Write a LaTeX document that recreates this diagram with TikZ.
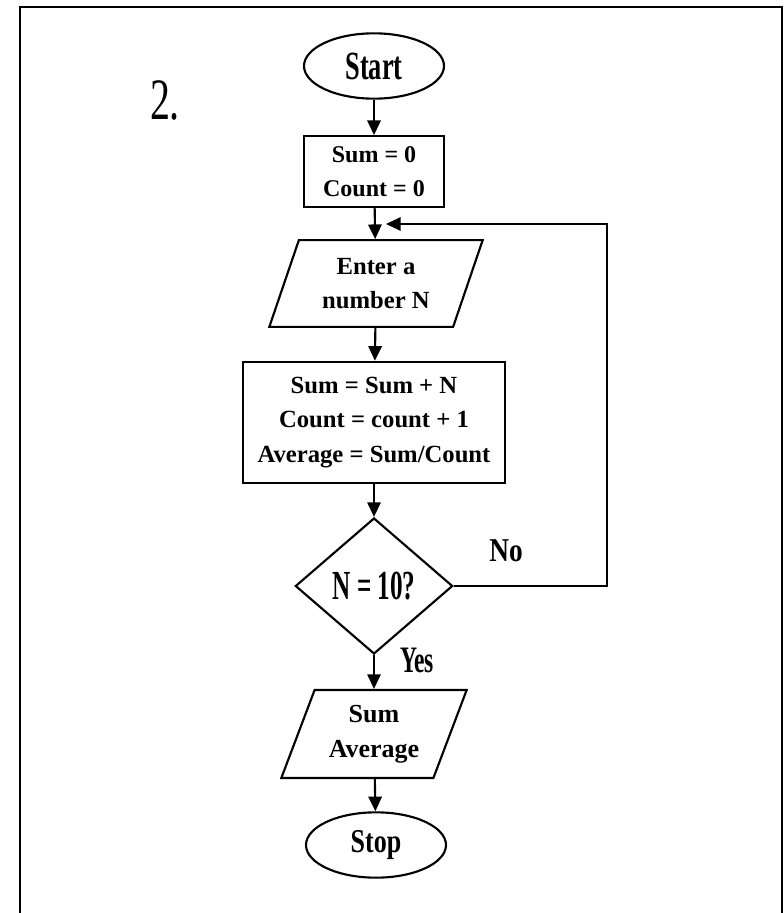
\documentclass[tikz,border=0pt]{standalone}
\usepackage{fontspec}
\usepackage{graphicx}
\setmainfont{Liberation Serif}
\usetikzlibrary{shapes.geometric,arrows.meta}

% narrow text: x-factor, size (pt), text
\newcommand{\narrow}[3]{\scalebox{#1}[1]{\fontsize{#2}{#2}\selectfont #3}}

\tikzset{
  base/.style={draw, line width=1.6pt, font=\bfseries},
  term/.style={base, ellipse, minimum width=105pt, minimum height=49pt, inner sep=0pt},
  proc/.style={base, rectangle, align=center, inner sep=0pt},
  io/.style={base, trapezium, trapezium left angle=60, trapezium right angle=120,
    trapezium stretches body, align=center, inner sep=0pt},
  dec/.style={base, diamond, inner sep=0pt, minimum width=118pt, minimum height=102pt},
  flow/.style={line width=1.6pt, -{Triangle[length=11pt,width=10pt]}},
  lbl/.style={font=\bfseries, inner sep=0pt},
  txt/.style={font=\bfseries\fontsize{#1}{26}\selectfont}
}

\begin{document}
\begin{tikzpicture}[x=0.75pt, y=-0.75pt]
  \useasboundingbox (0,0) rectangle (784,913);
  \draw[line width=1.6pt] (20,915) -- (20,7) -- (782,7) -- (782,915);

  \node[inner sep=0pt] (num) at (165,100) {\narrow{0.68}{44}{2.}};

  \node[term] (start) at (374,66) {\narrow{0.66}{30}{Start}};
  \node[proc, txt=18, minimum width=105pt, minimum height=53pt] (init) at (374,171.5)
    {Sum = 0\\Count = 0};
  \node[io, txt=18.5, minimum width=160pt, minimum height=65pt] (input) at (376,283.5)
    {Enter a\\number N};
  \node[proc, txt=18.5, minimum width=196pt, minimum height=91pt] (calc) at (374,422.5)
    {Sum = Sum + N\\Count = count + 1\\Average = Sum/Count};
  \node[dec] (test) at (374,586) {\narrow{0.61}{31}{N = 10?}};
  \node[io, txt=19.5, minimum width=139pt, minimum height=66pt] (output) at (374,734)
    {Sum\\Average};
  \node[term] (stop) at (376,845) {\narrow{0.78}{25}{Stop}};

  \node[lbl] (no) at (506,551) {\narrow{0.82}{25}{No}};
  \node[lbl] (yes) at (417,660) {\narrow{0.63}{28}{Yes}};

  \coordinate (join) at (386,224);
  \coordinate (back) at (607,224);

  \draw[flow] (start) -- (init);
  \draw[flow] (init) -- (input);
  \draw[flow] (input) -- (calc);
  \draw[flow] (calc) -- (test);
  \draw[flow] (test) -- (output);
  \draw[flow] (output) -- (stop);
  \draw[flow] (test.east) -| (back) -- (join);
\end{tikzpicture}
\end{document}
